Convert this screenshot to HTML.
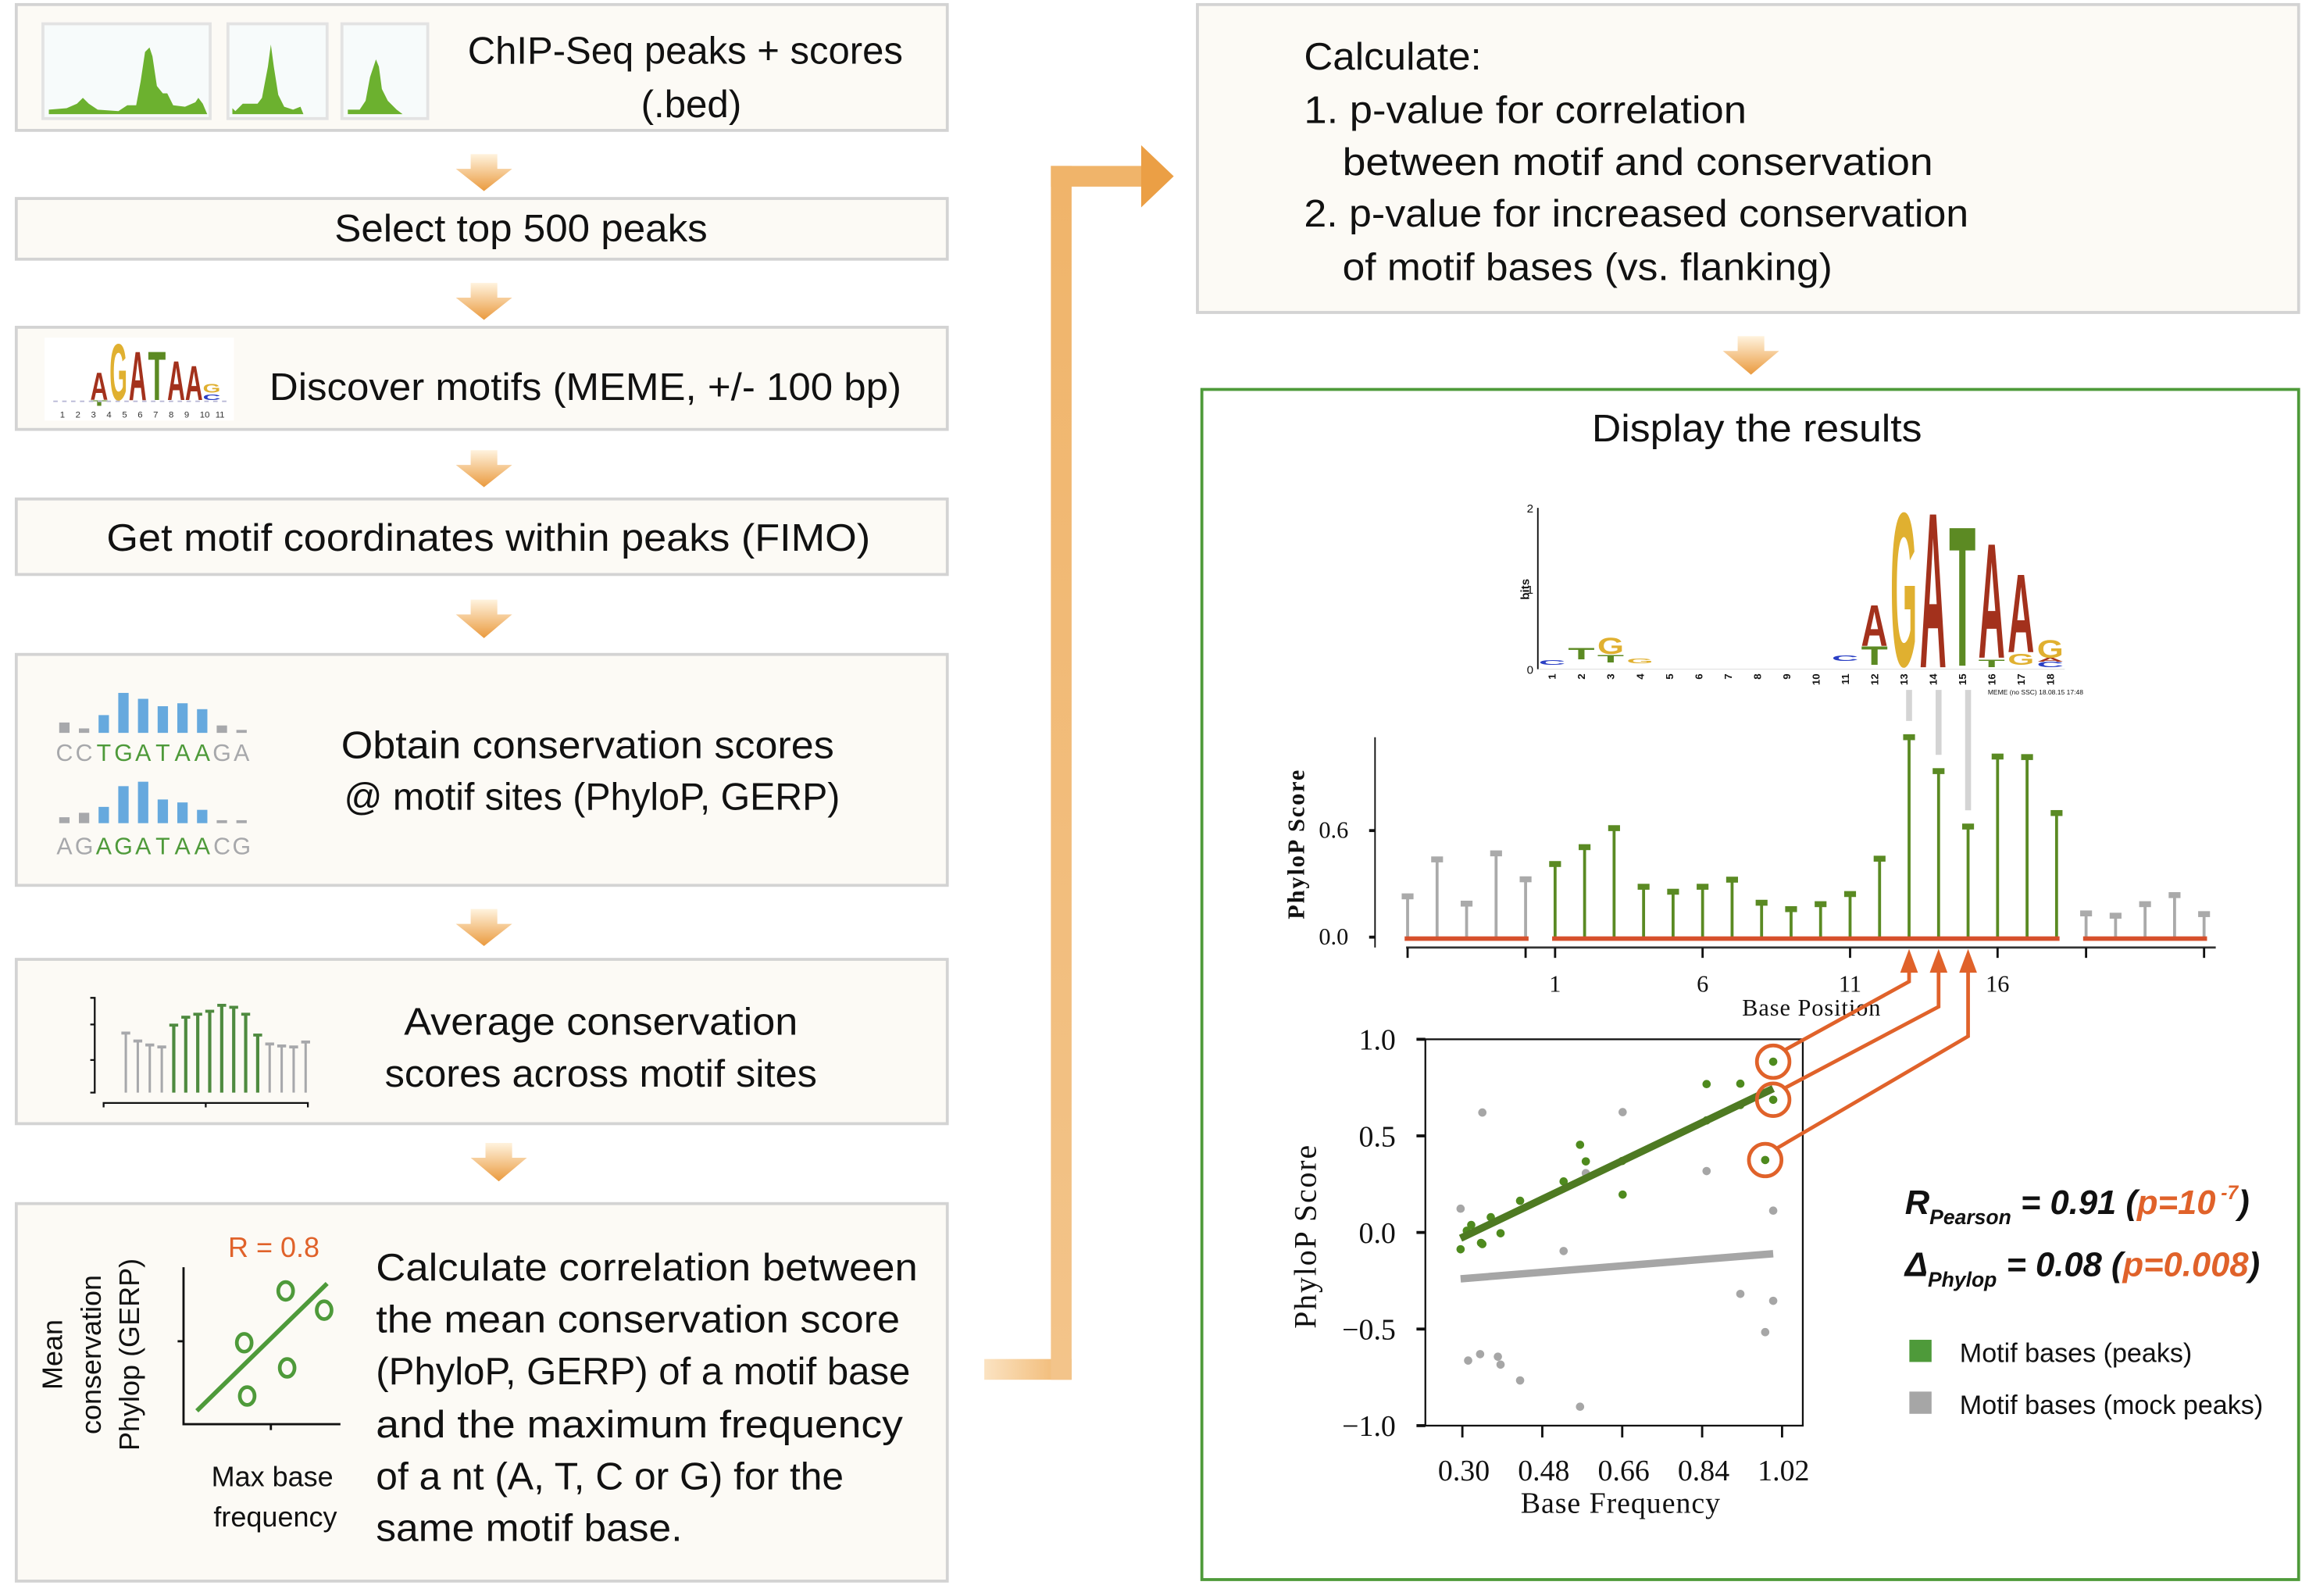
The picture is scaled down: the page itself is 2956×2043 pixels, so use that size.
<!DOCTYPE html>
<html><head><meta charset="utf-8"><style>
html,body{margin:0;padding:0;background:#fff;}
svg{display:block;}
.t{font-family:"Liberation Sans",sans-serif;fill:#111;}
.s{font-family:"Liberation Serif",serif;fill:#111;}
</style></head><body>
<svg id="root" width="2956" height="2043" viewBox="0 0 1560 1078" xmlns="http://www.w3.org/2000/svg">
<defs>
<linearGradient id="ag" x1="0" y1="0" x2="0" y2="1"><stop offset="0" stop-color="#fff3de"/><stop offset="1" stop-color="#ea9a3e"/></linearGradient>
<linearGradient id="hg" x1="0" y1="0" x2="1" y2="0"><stop offset="0" stop-color="#fbe3c2"/><stop offset="1" stop-color="#f0b46a"/></linearGradient>
<linearGradient id="vg" x1="0" y1="1" x2="0" y2="0"><stop offset="0" stop-color="#f3c48a"/><stop offset="1" stop-color="#f0b46a"/></linearGradient>
</defs>
<g id="left" stroke="#d3d3d3" stroke-width="2" fill="#fcfaf5">
<rect x="11" y="3" width="629" height="85"/>
<rect x="11" y="134" width="629" height="41"/>
<rect x="11" y="221" width="629" height="69"/>
<rect x="11" y="337" width="629" height="51"/>
<rect x="11" y="442" width="629" height="156"/>
<rect x="11" y="648" width="629" height="111"/>
<rect x="11" y="813" width="629" height="255"/>
<rect x="809" y="3" width="744" height="208"/>
</g>
<rect x="812" y="263" width="741" height="804" fill="#fff" stroke="#4e9a3a" stroke-width="2"/>
<g id="arrows" fill="url(#ag)">
<polygon points="318,104 336,104 336,114 346,114 327,129 308,114 318,114"/>
<polygon points="318,191 336,191 336,201 346,201 327,216 308,201 318,201"/>
<polygon points="318,304 336,304 336,314 346,314 327,329 308,314 318,314"/>
<polygon points="318,405 336,405 336,415 346,415 327,431 308,415 318,415"/>
<polygon points="318,614 336,614 336,624 346,624 327,639 308,624 318,624"/>
<polygon points="328,772 346,772 346,782 356,782 337,798 318,782 328,782"/>
<polygon points="1174,227 1192,227 1192,237 1202,237 1183,253 1164,237 1174,237"/>
</g>
<g>
<rect x="665" y="918" width="59" height="14" fill="url(#hg)"/>
<rect x="710" y="112" width="14" height="820" fill="url(#vg)"/>
<rect x="710" y="112" width="62" height="14" fill="#f0b46a"/>
<polygon points="771,98 793,119 771,140" fill="#eb9f45"/>
</g>
<g>
<rect x="29" y="16" width="113" height="64" fill="#f7fbfb" stroke="#e3e3e3" stroke-width="2"/>
<rect x="154" y="16" width="67" height="64" fill="#f7fbfb" stroke="#e3e3e3" stroke-width="2"/>
<rect x="231" y="16" width="58" height="64" fill="#f7fbfb" stroke="#e3e3e3" stroke-width="2"/>
<path d="M33,77 L33,74 L45,73 L52,70 L56,66 L60,70 L66,74 L80,75 L86,71 L92,71 L95,55 L98,35 L101,32 L103,38 L106,58 L110,63 L113,63 L117,71 L125,72 L132,69 L134,66 L137,70 L140,77 Z" fill="#6cb12f"/>
<path d="M157,77 L157,73 L159,75 L164,70 L174,70 L177,66 L181,45 L183,30 L185,45 L188,64 L192,72 L198,74 L203,72 L205,77 Z" fill="#6cb12f"/>
<path d="M235,77 L235,74 L243,74 L247,68 L250,52 L254,40 L256,45 L258,60 L262,68 L268,74 L272,77 Z" fill="#6cb12f"/>
</g>
<text class="t" x="610" y="43" font-size="26" text-anchor="end" textLength="294" lengthAdjust="spacingAndGlyphs">ChIP-Seq peaks + scores</text>
<text class="t" x="467" y="79" font-size="26" text-anchor="middle">(.bed)</text>
<text class="t" x="352" y="163" font-size="26" text-anchor="middle" textLength="252" lengthAdjust="spacingAndGlyphs">Select top 500 peaks</text>
<g id="smalllogo"></g>
<text class="t" x="182" y="270" font-size="26" textLength="427" lengthAdjust="spacingAndGlyphs">Discover motifs (MEME, +/- 100 bp)</text>
<text class="t" x="72" y="372" font-size="26" textLength="516" lengthAdjust="spacingAndGlyphs">Get motif coordinates within peaks (FIMO)</text>
<g id="consbars"></g>
<text class="t" x="397" y="512" font-size="26" text-anchor="middle" textLength="333" lengthAdjust="spacingAndGlyphs">Obtain conservation scores</text>
<text class="t" x="400" y="547" font-size="26" text-anchor="middle" textLength="335" lengthAdjust="spacingAndGlyphs">@ motif sites (PhyloP, GERP)</text>
<g id="avgbars"></g>
<text class="t" x="406" y="699" font-size="26" text-anchor="middle" textLength="266" lengthAdjust="spacingAndGlyphs">Average conservation</text>
<text class="t" x="406" y="734" font-size="26" text-anchor="middle" textLength="292" lengthAdjust="spacingAndGlyphs">scores across motif sites</text>
<g>
<polyline points="124,856 124,962 230,962" fill="none" stroke="#111" stroke-width="1.5"/>
<line x1="120" y1="906" x2="124" y2="906" stroke="#111" stroke-width="1.5"/>
<line x1="183" y1="962" x2="183" y2="966" stroke="#111" stroke-width="1.5"/>
<line x1="133" y1="953" x2="221" y2="867" stroke="#4e9a3a" stroke-width="3"/>
<g fill="none" stroke="#4e9a3a" stroke-width="2.5">
<ellipse cx="193" cy="872" rx="5" ry="6"/><ellipse cx="219" cy="885" rx="5" ry="6"/><ellipse cx="165" cy="907" rx="5" ry="6"/><ellipse cx="194" cy="924" rx="5" ry="6"/><ellipse cx="167" cy="943" rx="5" ry="6"/>
</g>
<text class="t" x="185" y="849" font-size="19" text-anchor="middle" style="fill:#e0622a">R = 0.8</text>
<text class="t" font-size="19" text-anchor="middle" transform="translate(42,915) rotate(-90)">Mean</text>
<text class="t" font-size="19" text-anchor="middle" transform="translate(68,915) rotate(-90)">conservation</text>
<text class="t" font-size="19" text-anchor="middle" transform="translate(94,915) rotate(-90)">Phylop (GERP)</text>
<text class="t" x="184" y="1004" font-size="19" text-anchor="middle">Max base</text>
<text class="t" x="186" y="1031" font-size="19" text-anchor="middle">frequency</text>
</g>
<g class="t" font-size="26">
<text x="254" y="865" textLength="366" lengthAdjust="spacingAndGlyphs">Calculate correlation between</text>
<text x="254" y="900" textLength="354" lengthAdjust="spacingAndGlyphs">the mean conservation score</text>
<text x="254" y="935" textLength="361" lengthAdjust="spacingAndGlyphs">(PhyloP, GERP) of a motif base</text>
<text x="254" y="971" textLength="356" lengthAdjust="spacingAndGlyphs">and the maximum frequency</text>
<text x="254" y="1006" textLength="316" lengthAdjust="spacingAndGlyphs">of a nt (A, T, C or G) for the</text>
<text x="254" y="1041" textLength="207" lengthAdjust="spacingAndGlyphs">same motif base.</text>
</g>
<g class="t" font-size="26">
<text x="881" y="47" textLength="120" lengthAdjust="spacingAndGlyphs">Calculate:</text>
<text x="881" y="83" textLength="299" lengthAdjust="spacingAndGlyphs">1. p-value for correlation</text>
<text x="907" y="118" textLength="399" lengthAdjust="spacingAndGlyphs">between motif and conservation</text>
<text x="881" y="153" textLength="449" lengthAdjust="spacingAndGlyphs">2. p-value for increased conservation</text>
<text x="907" y="189" textLength="331" lengthAdjust="spacingAndGlyphs">of motif bases (vs. flanking)</text>
</g>
<text class="t" x="1187" y="298" font-size="26" text-anchor="middle" textLength="223" lengthAdjust="spacingAndGlyphs">Display the results</text>
<g id="biglogo">
<line x1="1039" y1="343" x2="1039" y2="452" stroke="#111" stroke-width="1"/>
<text class="t" font-size="8" font-weight="bold" transform="translate(1033,398) rotate(-90)" text-anchor="middle">bits</text>
<text class="t" x="1036" y="346" font-size="8" text-anchor="end">2</text>
<text class="t" x="1036" y="401" font-size="8" text-anchor="end">1</text>
<text class="t" x="1036" y="455" font-size="8" text-anchor="end">0</text>
<text class="t" x="1343" y="469" font-size="4.5">MEME (no SSC) 18.08.15 17:48</text>
</g>
<g id="bars"></g>
<g id="scatter"></g>
<g>
<text class="t" x="1287" y="820" font-size="23" font-weight="bold" font-style="italic">R<tspan font-size="14" dy="7">Pearson</tspan><tspan dy="-7"> = 0.91 (</tspan><tspan style="fill:#e0622a">p=10</tspan><tspan font-size="13" dy="-10" style="fill:#e0622a"> -7</tspan><tspan dy="10">)</tspan></text>
<text class="t" x="1287" y="862" font-size="23" font-weight="bold" font-style="italic">Δ<tspan font-size="14" dy="7">Phylop</tspan><tspan dy="-7"> = 0.08 (</tspan><tspan style="fill:#e0622a">p=0.008</tspan>)</text>
<rect x="1290" y="905" width="15" height="15" fill="#4e9a3a"/>
<rect x="1290" y="940" width="15" height="15" fill="#a6a6a6"/>
<text class="t" x="1324" y="920" font-size="18">Motif bases (peaks)</text>
<text class="t" x="1324" y="955" font-size="18">Motif bases (mock peaks)</text>
</g>
</svg>
<script>
// ---------- bar chart data ----------
const leftFlankValues = [0.238, 0.446, 0.197, 0.48, 0.334];
const motifValues = [0.42, 0.515, 0.622, 0.292, 0.264, 0.292, 0.332, 0.202, 0.166, 0.194, 0.251, 0.45, 1.134, 0.943, 0.631, 1.025, 1.022, 0.707];
const rightFlankValues = [0.142, 0.129, 0.194, 0.245, 0.138];
const barYTicks = [0.0, 0.6];
const barYTickLabels = ["0.0", "0.6"];
const barXTickLabels = ["1", "6", "11", "16"];
const barXTickPositions = [1, 6, 11, 16];
const highlightedPositions = [13, 14, 15];
// ---------- scatter data ----------
const peaksFreq = [1.0, 1.0, 0.982, 0.85, 0.926, 0.565, 0.578, 0.661, 0.528, 0.43, 0.364, 0.32, 0.386, 0.296, 0.342, 0.345, 0.31, 0.85, 0.926, 0.66];
const peaksScore = [0.884, 0.687, 0.375, 0.768, 0.77, 0.454, 0.368, 0.196, 0.264, 0.164, 0.079, 0.039, -0.004, -0.087, -0.054, -0.06, 0.009, 0.58, 0.66, 0.37];
const mockFreq = [0.345, 0.661, 0.296, 0.85, 1.0, 0.528, 0.578, 0.926, 1.0, 0.982, 0.313, 0.34, 0.38, 0.386, 0.43, 0.565];
const mockScore = [0.621, 0.623, 0.123, 0.318, 0.113, -0.096, 0.307, -0.318, -0.354, -0.516, -0.663, -0.63, -0.643, -0.684, -0.766, -0.902];
const peaksFitLine = [[0.296, -0.03], [1.0, 0.745]];
const mockFitLine = [[0.296, -0.24], [1.0, -0.11]];
const scatterYTicks = [1.0, 0.5, 0.0, -0.5, -1.0];
const scatterYTickLabels = ["1.0", "0.5", "0.0", "\u22120.5", "\u22121.0"];
const scatterXTicks = [0.30, 0.48, 0.66, 0.84, 1.02];
const scatterXTickLabels = ["0.30", "0.48", "0.66", "0.84", "1.02"];
const circledPointIdx = [0, 1, 2];
// ---------- logo data ----------
const logoPositions = [2, 3, 3, 11, 12, 12, 13, 14, 15, 16, 16, 17, 17, 18, 18, 18, 1, 4];
const logoLetters = ["T", "T", "G", "C", "T", "A", "G", "A", "T", "T", "A", "G", "A", "C", "A", "G", "C", "G"];
const logoBottoms = [0.1, 0.06, 0.17, 0.08, 0.03, 0.27, 0.02, 0.0, 0.02, 0.0, 0.12, 0.03, 0.19, 0.0, 0.07, 0.12, 0.03, 0.05];
const logoTops = [0.25, 0.16, 0.38, 0.15, 0.27, 0.8, 2.0, 2.0, 1.82, 0.1, 1.6, 0.17, 1.2, 0.07, 0.12, 0.35, 0.09, 0.11];

const NS = "http://www.w3.org/2000/svg";
function mk(tag, attrs, parent) {
  const e = document.createElementNS(NS, tag);
  for (const k in attrs) e.setAttribute(k, attrs[k]);
  parent.appendChild(e);
  return e;
}
const colorOf = {A: "#a3311c", C: "#2a3fc4", G: "#e0b030", T: "#5c8a23"};
const glyphW = {A: 72, C: 72, G: 78, T: 61};
function letter(parent, ch, cx, ybot, h, w) {
  if (h <= 0.3) return;
  const t = mk("text", {"font-family": "Liberation Sans, sans-serif", "font-weight": "bold", "font-size": 100, "text-anchor": "middle", fill: colorOf[ch],
    transform: "translate(" + cx + "," + ybot + ") scale(" + (w / glyphW[ch]) + "," + (h / 72) + ")"}, parent);
  t.textContent = ch;
  return t;
}

// ---------- big logo ----------
const logoG = document.getElementById("biglogo");
const lx = p => 1048.6 + (p - 1) * 19.8;
const ly = b => 450.7 - b * 54;
for (let i = 0; i < logoLetters.length; i++) {
  const el = letter(logoG, logoLetters[i], lx(logoPositions[i]), ly(logoBottoms[i]), (logoTops[i] - logoBottoms[i]) * 54, 18);
  if (el) {
    
    
  }
}
mk("line", {x1: 1040, y1: 452, x2: 1395, y2: 452, stroke: "#ddd", "stroke-width": 0.5}, logoG);
for (let p = 1; p <= 18; p++) {
  const t = mk("text", {"font-family": "Liberation Sans, sans-serif", "font-size": 7, "font-weight": "bold", fill: "#111",
    transform: "translate(" + (lx(p) + 2.5) + ",455) rotate(-90)", "text-anchor": "end"}, logoG);
  t.textContent = String(p);
}

// ---------- small logo (box 3) ----------
const sl = document.getElementById("smalllogo");
mk("rect", {x: 30, y: 228, width: 128, height: 56, fill: "#fff"}, sl);
const sLetters = ["A", "G", "A", "T", "A", "A", "T", "G", "C"];
const sX = [67, 80, 93, 106, 119, 131, 67, 143, 143];
const sB = [270, 270, 270, 270, 270, 270, 274, 265, 270];
const sT = [251, 231, 236, 236, 243, 246, 270, 259, 266];
for (let i = 0; i < sLetters.length; i++) letter(sl, sLetters[i], sX[i], sB[i], sB[i] - sT[i], 12);
mk("line", {x1: 36, y1: 271, x2: 155, y2: 271, stroke: "#b9b9d6", "stroke-width": 1, "stroke-dasharray": "3,3"}, sl);
for (let i = 1; i <= 11; i++) {
  const t = mk("text", {x: 30 + i * 10.5, y: 282, "font-size": 6, "font-family": "Liberation Sans, sans-serif", fill: "#333"}, sl);
  t.textContent = String(i);
}

// ---------- conservation sequences (box 5) ----------
const cb = document.getElementById("consbars");
const seq1 = "CCTGATAAGA", seq2 = "AGAGATAACG";
const h1 = [7, 3, 12, 27, 23, 18, 20, 16, 5, 2];
const h2 = [4, 7, 11, 25, 28, 16, 14, 9, 2, 2];
for (let i = 0; i < 10; i++) {
  const x = 40 + i * 13.3;
  const motif = i >= 2 && i <= 7;
  mk("rect", {x: x, y: 495 - h1[i], width: 7, height: h1[i], fill: motif ? "#66a9de" : "#a7a8ab"}, cb);
  mk("rect", {x: x, y: 556 - h2[i], width: 7, height: h2[i], fill: motif ? "#66a9de" : "#a7a8ab"}, cb);
  const a = mk("text", {x: x + 3.5, y: 514, "font-size": 16, "text-anchor": "middle", "font-family": "Liberation Sans, sans-serif", fill: motif ? "#4e9a3a" : "#a7a8ab"}, cb);
  a.textContent = seq1[i];
  const b = mk("text", {x: x + 3.5, y: 577, "font-size": 16, "text-anchor": "middle", "font-family": "Liberation Sans, sans-serif", fill: motif ? "#4e9a3a" : "#a7a8ab"}, cb);
  b.textContent = seq2[i];
}

// ---------- average mini chart (box 6) ----------
const ab = document.getElementById("avgbars");
const avgH = [0.6, 0.52, 0.48, 0.46, 0.68, 0.76, 0.79, 0.82, 0.88, 0.86, 0.79, 0.58, 0.49, 0.47, 0.46, 0.51];
mk("polyline", {points: "61,674 64,674 64,738 61,738", fill: "none", stroke: "#111", "stroke-width": 1.2}, ab);
mk("line", {x1: 61, y1: 692, x2: 64, y2: 692, stroke: "#111", "stroke-width": 1.2}, ab);
mk("line", {x1: 61, y1: 716, x2: 64, y2: 716, stroke: "#111", "stroke-width": 1.2}, ab);
mk("polyline", {points: "70,748 70,745 208,745 208,748", fill: "none", stroke: "#111", "stroke-width": 1.2}, ab);
mk("line", {x1: 139, y1: 745, x2: 139, y2: 748, stroke: "#111", "stroke-width": 1.2}, ab);
for (let i = 0; i < avgH.length; i++) {
  const x = 85 + i * 8.1;
  const col = (i >= 4 && i <= 11) ? "#4e8a3f" : "#a7a8ab";
  const top = 738 - avgH[i] * 67;
  mk("line", {x1: x, y1: 738, x2: x, y2: top, stroke: col, "stroke-width": i >= 4 && i <= 11 ? 2.2 : 1.6}, ab);
  mk("line", {x1: x - 3, y1: top, x2: x + 3, y2: top, stroke: col, "stroke-width": 2}, ab);
}

// ---------- PhyloP bar chart ----------
const bg = document.getElementById("bars");
const yB = v => 633 - v * 120;
const xB = slot => 951 + slot * 19.93;
const slotOfPos = p => p + 4;
const allBars = [];
leftFlankValues.forEach((v, i) => allBars.push([i, v, "#aaaaaa"]));
motifValues.forEach((v, i) => allBars.push([slotOfPos(i + 1), v, "#5a8a23"]));
rightFlankValues.forEach((v, i) => allBars.push([slotOfPos(motifValues.length + 1) + i, v, "#aaaaaa"]));
highlightedPositions.forEach((p, k) => {
  const top = yB(motifValues[p - 1]);
  mk("line", {x1: xB(slotOfPos(p)), y1: 466, x2: xB(slotOfPos(p)), y2: top - 10, stroke: "#d4d4d4", "stroke-width": 4}, bg);
});
mk("line", {x1: 929, y1: 498, x2: 929, y2: 640, stroke: "#111", "stroke-width": 1}, bg);
barYTicks.forEach((v, i) => {
  mk("line", {x1: 925, y1: yB(v), x2: 929, y2: yB(v), stroke: "#111", "stroke-width": 2}, bg);
  const t = mk("text", {x: 911, y: yB(v) + 5, "font-size": 16, "text-anchor": "end", "font-family": "Liberation Serif, serif", fill: "#111"}, bg);
  t.textContent = barYTickLabels[i];
});
const yl = mk("text", {"font-size": 16, "font-weight": "bold", "text-anchor": "middle", "font-family": "Liberation Serif, serif", fill: "#111", "letter-spacing": "1", transform: "translate(881,570) rotate(-90)"}, bg);
yl.textContent = "PhyloP  Score";
allBars.forEach(b => {
  const x = xB(b[0]), top = yB(b[1]);
  const ln = mk("line", {x1: x, y1: 633, x2: x, y2: top, stroke: b[2], "stroke-width": 2}, bg);
  
  
  mk("rect", {x: x - 4, y: top - 1, width: 8, height: 4, fill: b[2]}, bg);
});
const lastL = leftFlankValues.length - 1, firstM = slotOfPos(1), lastM = slotOfPos(motifValues.length), firstR = lastM + 1, lastR = firstR + rightFlankValues.length - 1;
[[0, lastL], [firstM, lastM], [firstR, lastR]].forEach(r => {
  mk("line", {x1: xB(r[0]) - 2, y1: 634, x2: xB(r[1]) + 2, y2: 634, stroke: "#d6502c", "stroke-width": 3}, bg);
});
mk("line", {x1: 950, y1: 640, x2: 1497, y2: 640, stroke: "#333", "stroke-width": 1.5}, bg);
[0, lastL, firstM, slotOfPos(6), slotOfPos(11), slotOfPos(16), firstR, lastR].forEach(s => {
  mk("line", {x1: xB(s), y1: 640, x2: xB(s), y2: 647, stroke: "#111", "stroke-width": 1.5}, bg);
});
barXTickLabels.forEach((lab, i) => {
  const t = mk("text", {x: xB(slotOfPos(barXTickPositions[i])), y: 670, "font-size": 16, "text-anchor": "middle", "font-family": "Liberation Serif, serif", fill: "#111"}, bg);
  t.textContent = lab;
});
const xl = mk("text", {x: 1224, y: 686, "font-size": 16, "text-anchor": "middle", "font-family": "Liberation Serif, serif", fill: "#111", "letter-spacing": "0.5"}, bg);
xl.textContent = "Base  Position";

// ---------- scatter ----------
const sg = document.getElementById("scatter");
const xS = f => 988 + (f - 0.30) * 300;
const yS = v => 832.5 - v * 130.5;
mk("rect", {x: 963, y: yS(1.0), width: 255, height: yS(-1.0) - yS(1.0), fill: "none", stroke: "#111", "stroke-width": 1.2}, sg);
scatterYTicks.forEach((v, i) => {
  mk("line", {x1: 957, y1: yS(v), x2: 963, y2: yS(v), stroke: "#111", "stroke-width": 2}, sg);
  const t = mk("text", {x: 943, y: yS(v) + 7, "font-size": 20, "text-anchor": "end", "font-family": "Liberation Serif, serif", fill: "#111"}, sg);
  t.textContent = scatterYTickLabels[i];
});
scatterXTicks.forEach((v, i) => {
  mk("line", {x1: xS(v), y1: 963, x2: xS(v), y2: 971, stroke: "#111", "stroke-width": 1.5}, sg);
  const t = mk("text", {x: xS(v) + 1, y: 1000, "font-size": 20, "text-anchor": "middle", "font-family": "Liberation Serif, serif", fill: "#111"}, sg);
  t.textContent = scatterXTickLabels[i];
});
const sxl = mk("text", {x: 1095, y: 1022, "font-size": 20, "text-anchor": "middle", "font-family": "Liberation Serif, serif", fill: "#111", "letter-spacing": "0.5"}, sg);
sxl.textContent = "Base  Frequency";
const syl = mk("text", {"font-size": 21, "text-anchor": "middle", "font-family": "Liberation Serif, serif", fill: "#111", "letter-spacing": "1", transform: "translate(889,835) rotate(-90)"}, sg);
syl.textContent = "PhyloP  Score";
mk("line", {x1: xS(mockFitLine[0][0]), y1: yS(mockFitLine[0][1]), x2: xS(mockFitLine[1][0]), y2: yS(mockFitLine[1][1]), stroke: "#a6a6a6", "stroke-width": 5}, sg);
mockFreq.forEach((f, i) => {
  const c = mk("circle", {cx: xS(f), cy: yS(mockScore[i]), r: 2.8, fill: "#a6a6a6"}, sg);
  
  
});
peaksFreq.forEach((f, i) => {
  const c = mk("circle", {cx: xS(f), cy: yS(peaksScore[i]), r: 2.8, fill: "#4e8a1e"}, sg);
  
  
});
mk("line", {x1: xS(peaksFitLine[0][0]), y1: yS(peaksFitLine[0][1]), x2: xS(peaksFitLine[1][0]), y2: yS(peaksFitLine[1][1]), stroke: "#4e7a22", "stroke-width": 5}, sg);
const elbowY = [663, 680, 700];
circledPointIdx.forEach((pi, k) => {
  const cx = xS(peaksFreq[pi]), cy = yS(peaksScore[pi]);
  const bx = xB(slotOfPos(highlightedPositions[k]));
  mk("circle", {cx: cx, cy: cy, r: 11, fill: "none", stroke: "#e0622a", "stroke-width": 2.5}, sg);
  mk("polyline", {points: (cx + 8) + "," + (cy - 8) + " " + bx + "," + elbowY[k] + " " + bx + "," + 652, fill: "none", stroke: "#e0622a", "stroke-width": 2.5}, sg);
  mk("polygon", {points: (bx - 6) + ",657 " + (bx + 6) + ",657 " + bx + ",641", fill: "#e0622a"}, sg);
});
</script>
</body></html>
